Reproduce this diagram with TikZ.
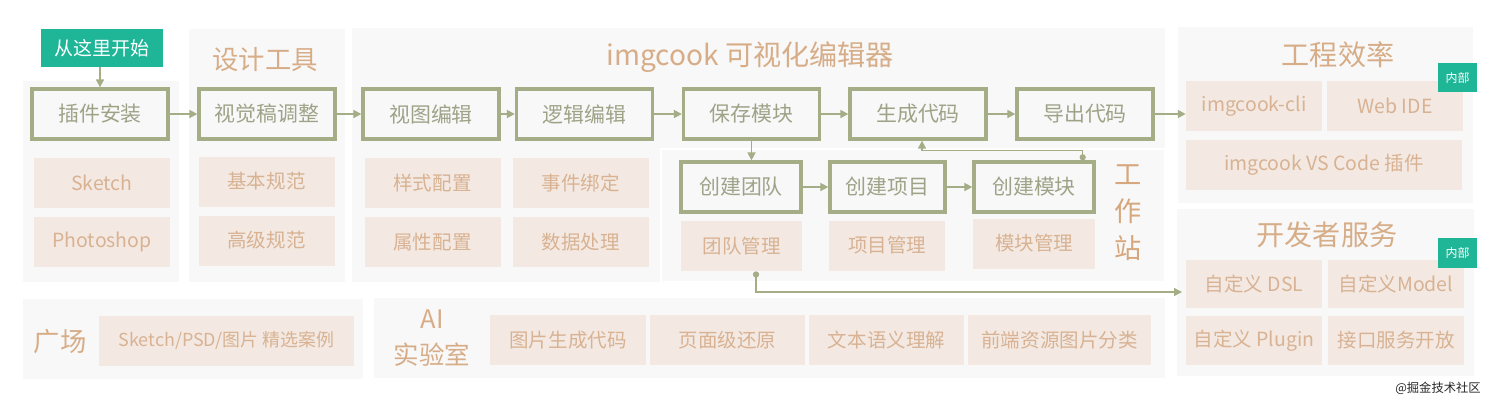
\documentclass[tikz,border=0pt]{standalone}
\usepackage{fontspec}
\newfontfamily\cjk{Noto Sans CJK SC}
\usepackage{xcolor}
\usepackage{tikz}
\usetikzlibrary{arrows.meta}
\definecolor{panelgray}{HTML}{F8F8F8}
\definecolor{olive}{HTML}{A4AD86}
\definecolor{olivetext}{HTML}{9EA388}
\definecolor{peach}{HTML}{F3E9E2}
\definecolor{peachtext}{HTML}{D8B292}
\definecolor{titletext}{HTML}{D7AD88}
\definecolor{wstext}{HTML}{D6A67C}
\definecolor{startgreen}{HTML}{1FB597}

\begin{document}
\begin{tikzpicture}[
  font=\cjk, >={Triangle[length=4.5pt, width=4.5pt]},
  panel/.style={fill=panelgray},
  stepbox/.style={draw=olive, fill=panelgray, line width=1.9pt, minimum width=2.72cm, minimum height=1.0cm, inner sep=0pt, text=olivetext, font=\cjk\fontsize{11.9}{13}\selectfont},
  tag/.style={fill=peach, minimum width=2.72cm, minimum height=1.0cm, inner sep=0pt, text=peachtext, font=\cjk\fontsize{11.1}{12}\selectfont},
  ttl/.style={text=titletext, font=\cjk\fontsize{15}{18}\selectfont},
  badge/.style={fill=startgreen, text=white, inner sep=0pt},
  arr/.style={->, line width=1pt, draw=olive},
  link/.style={{Circle[length=3.5pt]}->, line width=0.8pt, draw=olive},
]
\useasboundingbox (0,0) rectangle (30,-8.04);
% panels
\fill[panel] (0.46,-1.62) rectangle (3.58,-5.64);
\fill[panel] (3.78,-0.58) rectangle (6.90,-5.64);
\fill[panel] (7.04,-0.56) rectangle (23.30,-5.64);
\fill[panel, draw=white, line width=0.8pt] (13.22,-2.98) rectangle (23.30,-5.64);
\fill[panel] (23.56,-0.54) rectangle (29.46,-4.06);
\fill[panel] (23.54,-4.18) rectangle (29.48,-7.52);
\fill[panel] (0.46,-5.98) rectangle (7.26,-7.58);
\fill[panel] (7.48,-5.96) rectangle (23.30,-7.56);
% titles
\node[ttl] (designttl) at (5.30,-1.20) {设计工具};
\node[ttl, font=\cjk\fontsize{16}{19}\selectfont] (editorttl) at (15.00,-1.14) {imgcook 可视化编辑器};
\node[ttl, font=\cjk\fontsize{16}{19}\selectfont] (effttl) at (26.76,-1.10) {工程效率};
\node[ttl, font=\cjk\fontsize{16}{19}\selectfont] (devttl) at (26.54,-4.70) {开发者服务};
\node[ttl] (squarettl) at (1.20,-6.84) {广场};
\node[ttl, align=center, font=\cjk\fontsize{14.5}{20.5}\selectfont] (labttl) at (8.64,-6.76) {AI\\实验室};
\node[ttl, align=center, text=wstext, font=\cjk\fontsize{15.5}{21}\selectfont] (wsttl) at (22.56,-4.26) {工\\作\\站};
% start
\node[badge, minimum width=2.44cm, minimum height=0.76cm, font=\cjk\fontsize{10.8}{12}\selectfont] (start) at (2.04,-0.96) {从这里开始};
% row 1
\node[stepbox] (plugin)   at (2.00,-2.28)  {插件安装};
\node[stepbox] (visual)   at (5.34,-2.28)  {视觉稿调整};
\node[stepbox] (viewedit) at (8.62,-2.28)  {视图编辑};
\node[stepbox] (logic)    at (11.69,-2.28) {逻辑编辑};
\node[stepbox] (save)     at (15.03,-2.28) {保存模块};
\node[stepbox] (gen)      at (18.36,-2.28) {生成代码};
\node[stepbox] (export)   at (21.70,-2.28) {导出代码};
% tags under row 1
\node[tag] (sketch)    at (2.04,-3.66)  {Sketch};
\node[tag] (photoshop) at (2.04,-4.84)  {Photoshop};
\node[tag] (basic)     at (5.33,-3.63)  {基本规范};
\node[tag] (advanced)  at (5.33,-4.81)  {高级规范};
\node[tag] (style)     at (8.65,-3.66)  {样式配置};
\node[tag] (attr)      at (8.65,-4.84)  {属性配置};
\node[tag] (event)     at (11.61,-3.66) {事件绑定};
\node[tag] (data)      at (11.61,-4.84) {数据处理};
% workstation
\node[stepbox, minimum width=2.40cm] (team)    at (14.82,-3.74) {创建团队};
\node[stepbox, minimum width=2.30cm] (project) at (17.75,-3.74) {创建项目};
\node[stepbox, minimum width=2.40cm] (module)  at (20.68,-3.74) {创建模块};
\node[tag, minimum width=2.42cm] (teammgmt)    at (14.83,-4.92) {团队管理};
\node[tag, minimum width=2.32cm] (projectmgmt) at (17.74,-4.91) {项目管理};
\node[tag, minimum width=2.44cm] (modulemgmt)  at (20.68,-4.87) {模块管理};
% efficiency
\node[tag] (cli)    at (25.08,-2.12) {imgcook-cli};
\node[tag] (webide) at (27.90,-2.12) {Web IDE};
\node[tag, minimum width=5.52cm] (vscode) at (26.48,-3.30) {imgcook VS Code 插件};
\node[badge, minimum width=0.78cm, minimum height=0.58cm, font=\cjk\fontsize{6.8}{8}\selectfont] (inner1) at (29.15,-1.55) {内部};
% developer services
\node[tag, minimum height=0.96cm] (dsl)    at (25.08,-5.68) {自定义 DSL};
\node[tag, minimum height=0.96cm] (model)  at (27.92,-5.68) {自定义Model};
\node[tag, minimum height=0.98cm] (plugindef) at (25.08,-6.81) {自定义 Plugin};
\node[tag, minimum height=0.98cm] (api)    at (27.92,-6.81) {接口服务开放};
\node[badge, minimum width=0.78cm, minimum height=0.60cm, font=\cjk\fontsize{6.8}{8}\selectfont] (inner2) at (29.15,-5.06) {内部};
% bottom row
\node[tag, minimum width=5.10cm, font=\cjk\fontsize{10.2}{11}\selectfont] (cases) at (4.53,-6.81) {Sketch/PSD/图片 精选案例};
\node[tag, minimum width=3.12cm] (img2code)  at (11.36,-6.80) {图片生成代码};
\node[tag, minimum width=3.10cm] (pagerest)  at (14.55,-6.80) {页面级还原};
\node[tag, minimum width=3.10cm] (semantic)  at (17.73,-6.80) {文本语义理解};
\node[tag, minimum width=3.66cm] (imgclass)  at (21.19,-6.80) {前端资源图片分类};
% arrows
\draw[arr] (start.south -| plugin.north) -- (plugin.north);
\draw[arr] (plugin) -- (visual);
\draw[arr] (visual) -- (viewedit);
\draw[arr] (viewedit) -- (logic);
\draw[arr] (logic) -- (save);
\draw[arr] (save) -- (gen);
\draw[arr] (gen) -- (export);
\draw[arr] (export.east) -- (export.east -| cli.west);
\draw[arr] (save.south) -- (save.south |- team.north);
\draw[arr] (team) -- (project);
\draw[arr] (project) -- (module);
\draw[link] ([xshift=-0.26cm]module.north east) -- ++(0,0.20) -| ([xshift=0.08cm]gen.south);
\coordinate (devin) at (23.64,-5.84);
\draw[link] ([xshift=0.29cm]teammgmt.south) |- (devin);
% watermark
\node[font=\cjk\fontsize{7}{8}\selectfont, text=black!85] (mark) at (28.76,-7.76) {@掘金技术社区};
\end{tikzpicture}
\end{document}
